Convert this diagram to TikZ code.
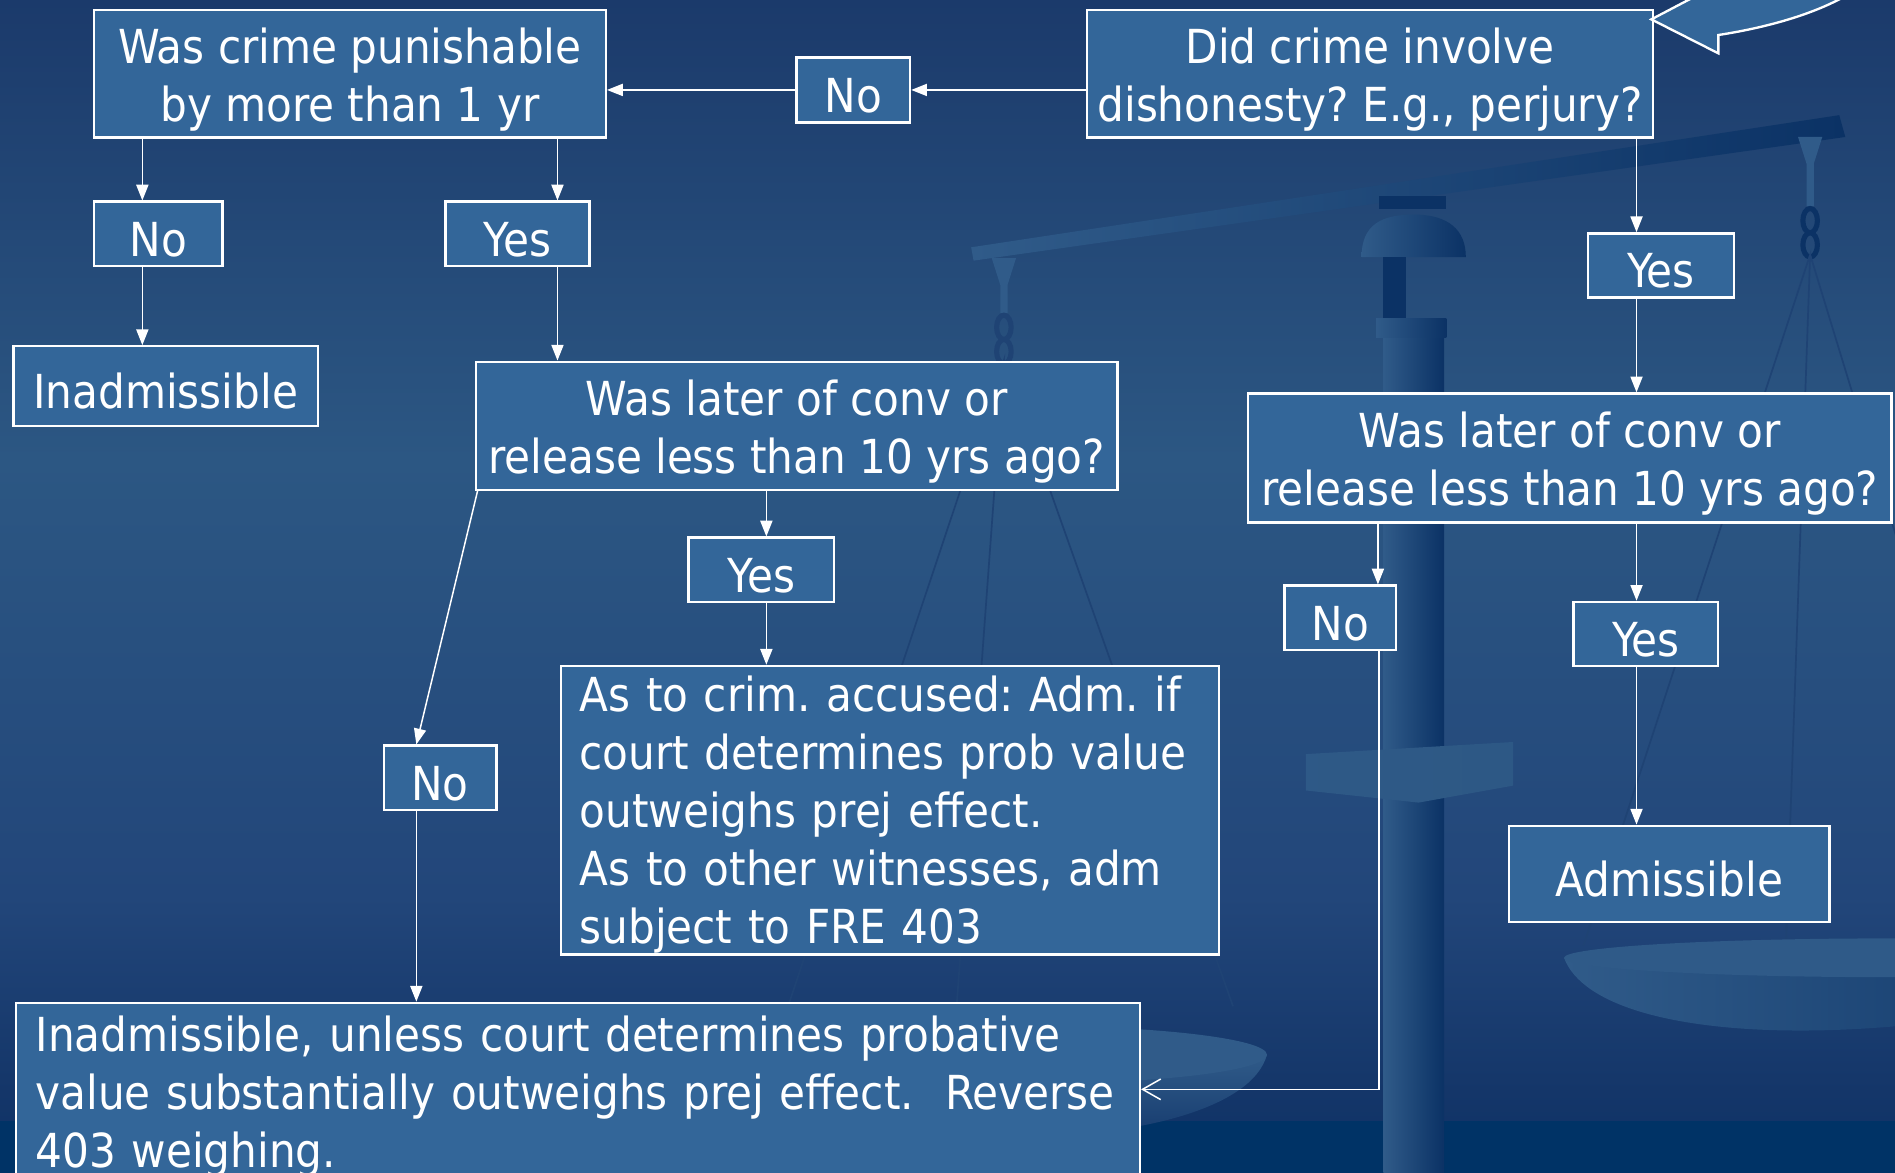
\documentclass[tikz,border=0pt]{standalone}
\usepackage{fontspec}
\setmainfont{DejaVu Sans Condensed}
\usetikzlibrary{arrows.meta}
\definecolor{boxblue}{HTML}{336699}
\definecolor{bgtop}{HTML}{1B3A6B}
\definecolor{bgmid}{HTML}{2C5783}
\definecolor{bglow}{HTML}{22467A}
\definecolor{bgdeep}{HTML}{143669}
\definecolor{bgbot}{HTML}{0E3166}
\definecolor{bgband}{HTML}{003366}
\definecolor{scalelite}{HTML}{305B89}
\definecolor{scaledark}{HTML}{0B3265}
\definecolor{cord}{HTML}{1F4374}
\pgfdeclareverticalshading{backdrop}{100bp}{color(0bp)=(bgbot); color(25bp)=(bgbot);
  color(28.5bp)=(bgdeep); color(36.8bp)=(bglow); color(55.4bp)=(bgmid); color(75bp)=(bgtop); color(100bp)=(bgtop)}
\newcommand{\topline}{\rule{0pt}{11.2pt}}
\frenchspacing

\begin{document}
\begin{tikzpicture}[x=0.1mm,y=-0.1mm,
    font=\fontsize{11}{13.6}\selectfont,
    box/.style={draw=white,line width=0.55pt,fill=boxblue,text=white,align=center,inner sep=0pt,
      execute at begin node={\rule{0pt}{10.6pt}}},
    wh/.style 2 args={minimum width=#1mm,minimum height=#2mm},
    arr/.style={draw=white,line width=0.35pt,-{Triangle[length=1.3mm,width=1mm]}},
    back/.style={draw=white,line width=0.35pt,-{Straight Barb[length=1.5mm,width=1.7mm]}},
    cords/.style={draw=cord,line width=0.4pt}]
  \clip (0,0) rectangle (1563,967.5);
  \shade[shading=backdrop] (0,0) rectangle (1563,967.5);
  \fill[bgband] (0,925) rectangle (1563,967.5);

  \shade[left color=scalelite,right color=scaledark] (801,204) -- (1517,95) -- (1522,113) -- (803,215) -- cycle;
  \shade[left color=scalelite,right color=scaledark] (1141,263) rectangle (1191,967.5);
  \shade[left color=scalelite,right color=scaledark] (1123,212) .. controls (1123,185) and (1140,177) .. (1166,177) .. controls (1195,177) and (1209,190) .. (1209,212) -- cycle;
  \fill[scaledark] (1137,162) rectangle (1193,172);
  \fill[scaledark] (1141,212) rectangle (1160,263);
  \shade[left color=scalelite,right color=scaledark] (1135,263) rectangle (1193,278);
  \shade[left color=scalelite!60!bgmid,right color=scalelite!30!bgmid] (1077,622) -- (1248,612) -- (1248,648) -- (1170,662) -- (1077,652) -- cycle;
  \fill[scalelite] (818,213) -- (838,213) -- (831,235) -- (831,258) -- (825,258) -- (825,235) -- cycle;
  \draw[cord,line width=1.2pt] (828,270) ellipse [x radius=6,y radius=10] (828,290) ellipse [x radius=6,y radius=10];
  \fill[scalelite] (1483,113) -- (1503,113) -- (1496,135) -- (1496,170) -- (1490,170) -- (1490,135) -- cycle;
  \draw[scaledark,line width=1.2pt] (1493,182) ellipse [x radius=6,y radius=10] (1493,202) ellipse [x radius=6,y radius=10];
  \draw[cords] (650,830) -- (828,297) -- (789,830) (828,297) -- (1017,830);
  \draw[cords] (1306,780) -- (1493,210) -- (1473,780) (1493,210) -- (1667,780);
  \shade[top color=scalelite,bottom color=bgbot] (640,870) .. controls (660,960) and (1020,960) .. (1045,870) -- cycle;
  \fill[scalelite] (842,870) ellipse [x radius=203,y radius=24];
  \shade[left color=scalelite,right color=scaledark] (1290,790) .. controls (1320,870) and (1600,870) .. (1830,790) -- cycle;
  \fill[scalelite!80!bgmid] (1560,790) ellipse [x radius=270,y radius=16];

  \node[box,wh={42.22}{10.51}] (punish) at (288.6,61) {\topline Was crime punishable\\by more than 1 yr};
  \node[box,wh={9.36}{5.37}] (noA) at (703.8,74.2) {No};
  \node[box,wh={46.69}{10.51}] (dishon) at (1130,61) {\topline Did crime involve\\dishonesty? E.g., perjury?};
  \node[box,wh={10.59}{5.31}] (noB) at (130.5,192.9) {No};
  \node[box,wh={11.89}{5.31}] (yesB) at (426.8,192.9) {Yes};
  \node[box,wh={25.13}{6.57}] (inadm) at (136.7,318.5) {Inadmissible};
  \node[box,wh={52.93}{10.57}] (laterL) at (657,351.2) {\topline Was later of conv or\\release less than 10 yrs ago?};
  \node[box,wh={12.02}{5.31}] (yesC) at (627.9,470) {Yes};
  \node[box,wh={54.27}{23.8},align=left,text width=51.19mm,inner xsep=1.54mm] (accused) at (734,668.2)
    {As to crim. accused: Adm. if\\court determines prob value\\outweighs prej effect.\\As to other witnesses, adm\\subject to FRE 403};
  \node[box,wh={9.31}{5.3}] (noC) at (363,641.5) {No};
  \node[box,minimum width=92.72mm,align=left,text width=89.42mm,inner xsep=1.65mm,inner ysep=0.3mm,anchor=north west] (unless) at (12,826.2)
    {Inadmissible, unless court determines probative\\value substantially outweighs prej effect.\ \ Reverse\\403 weighing.};
  \node[box,wh={12.05}{5.3}] (yesD) at (1369.9,219) {Yes};
  \node[box,wh={53.05}{10.63}] (laterR) at (1294.8,377.7) {\topline Was later of conv or\\release less than 10 yrs ago?};
  \node[box,wh={9.21}{5.34}] (noE) at (1105.5,509.7) {No};
  \node[box,wh={11.93}{5.3}] (yesE) at (1357.4,523) {Yes};
  \node[box,wh={26.44}{7.96}] (adm) at (1376.8,720.9) {Admissible};

  \draw[box] (1402,-5) -- (1362,16) -- (1417.3,44) -- (1417.3,28.9) .. controls (1462,22) and (1500,10) .. (1525,-5) -- cycle;

  \draw[arr] (dishon.west |- noA) -- (noA.east);
  \draw[arr] (noA.west) -- (noA.west -| punish.east);
  \draw[arr] (117.4,0 |- punish.south) -- (117.4,0 |- noB.north);
  \draw[arr] (459.8,0 |- punish.south) -- (459.8,0 |- yesB.north);
  \draw[arr] (117.4,0 |- noB.south) -- (117.4,0 |- inadm.north);
  \draw[arr] (459.8,0 |- yesB.south) -- (459.8,0 |- laterL.north);
  \draw[arr] (632.1,0 |- laterL.south) -- (632.1,0 |- yesC.north);
  \draw[arr] (632.1,0 |- yesC.south) -- (632.1,0 |- accused.north);
  \draw[arr] ([xshift=0.25mm]laterL.south west) -- (343.4,0 |- noC.north);
  \draw[arr] (343.4,0 |- noC.south) -- (343.4,0 |- unless.north);
  \draw[arr] (1349.8,0 |- dishon.south) -- (1349.8,0 |- yesD.north);
  \draw[arr] (1349.8,0 |- yesD.south) -- (1349.8,0 |- laterR.north);
  \draw[arr] (1136.5,0 |- laterR.south) -- (1136.5,0 |- noE.north);
  \draw[arr] (1349.8,0 |- laterR.south) -- (1349.8,0 |- yesE.north);
  \draw[arr] (1349.8,0 |- yesE.south) -- (1349.8,0 |- adm.north);
  \draw[back] (1137.5,0 |- noE.south) -- (1137.5,898.5) -- (unless.east |- 0,898.5);
\end{tikzpicture}
\end{document}
